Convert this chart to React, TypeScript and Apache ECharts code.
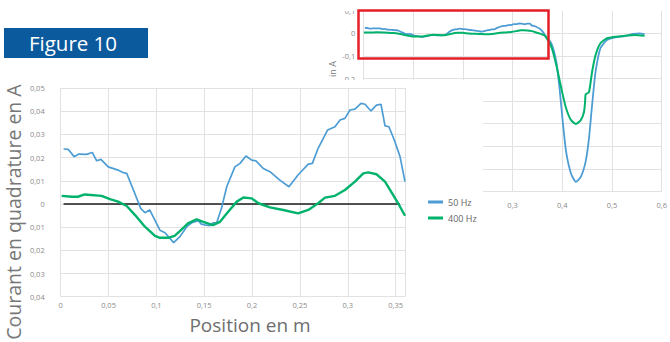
import React, { useEffect, useRef } from 'react';
import * as echarts from 'echarts';

// 50 Hz, zoomed section (position in m, current in A)
const pos50 = [0.003, 0.008, 0.014, 0.019, 0.027, 0.033, 0.0376, 0.042, 0.0497, 0.06, 0.0654, 0.069, 0.076, 0.0836, 0.088, 0.093, 0.1037, 0.109, 0.118, 0.1246, 0.1317, 0.137, 0.1438, 0.147, 0.1508, 0.156, 0.1595, 0.163, 0.168, 0.1735, 0.182, 0.1874, 0.1936, 0.1996, 0.204, 0.2117, 0.2187, 0.229, 0.2385, 0.248, 0.2587, 0.263, 0.269, 0.279, 0.2866, 0.2919, 0.297, 0.3023, 0.3075, 0.3138, 0.318, 0.3242, 0.33, 0.3347, 0.3389, 0.343, 0.3493, 0.3546, 0.3598];
const val50 = [0.0237, 0.0235, 0.0204, 0.0215, 0.0214, 0.0222, 0.0186, 0.0192, 0.016, 0.0146, 0.0135, 0.0132, 0.006, -0.0019, -0.0038, -0.0026, -0.0113, -0.0124, -0.0167, -0.0141, -0.0098, -0.0081, -0.0072, -0.0087, -0.009, -0.0094, -0.0081, -0.0081, -0.0019, 0.0074, 0.016, 0.0175, 0.0207, 0.0189, 0.0186, 0.0153, 0.0139, 0.0103, 0.0074, 0.0125, 0.0172, 0.0175, 0.024, 0.0319, 0.0333, 0.0362, 0.0369, 0.0405, 0.0409, 0.0434, 0.043, 0.0401, 0.0426, 0.043, 0.0337, 0.0333, 0.0268, 0.0204, 0.0096];

// 400 Hz, zoomed section
const pos400 = [0.001, 0.0115, 0.018, 0.025, 0.0428, 0.0515, 0.06, 0.069, 0.0777, 0.088, 0.0985, 0.1037, 0.1124, 0.119, 0.1265, 0.133, 0.142, 0.149, 0.159, 0.1665, 0.175, 0.184, 0.191, 0.1996, 0.2065, 0.2187, 0.2326, 0.248, 0.2587, 0.269, 0.2762, 0.2866, 0.297, 0.3075, 0.3162, 0.3214, 0.33, 0.3389, 0.3475, 0.3546, 0.3598];
const val400 = [0.0035, 0.0031, 0.0031, 0.0041, 0.0035, 0.0021, 0.001, -0.0009, -0.0048, -0.0098, -0.0138, -0.0146, -0.0146, -0.0138, -0.011, -0.0084, -0.0066, -0.0077, -0.0091, -0.0077, -0.0034, 0.001, 0.0028, 0.0024, 0.0003, -0.0015, -0.0026, -0.0041, -0.0026, 0.0003, 0.0027, 0.0035, 0.006, 0.0096, 0.0132, 0.0136, 0.0128, 0.0096, 0.0038, -0.0012, -0.0051];

// remainder of the full scan (background chart)
const tailPos50 = [0.365, 0.378, 0.388, 0.3945, 0.401, 0.4077, 0.4175, 0.4274, 0.4373, 0.447, 0.4537, 0.46, 0.467, 0.4767, 0.49, 0.5063, 0.526, 0.5424, 0.5556, 0.5655];
const tailVal50 = [-0.0075, -0.044, -0.126, -0.243, -0.391, -0.524, -0.62, -0.657, -0.635, -0.568, -0.465, -0.317, -0.17, -0.066, -0.0296, -0.018, -0.012, -0.003, 0, -0.004];
const tailPos400 = [0.365, 0.378, 0.388, 0.398, 0.4077, 0.4175, 0.4274, 0.4373, 0.4438, 0.446, 0.447, 0.4537, 0.46, 0.467, 0.4767, 0.49, 0.5063, 0.526, 0.546, 0.5655];
const tailVal400 = [-0.0106, -0.059, -0.14, -0.243, -0.332, -0.384, -0.401, -0.384, -0.347, -0.3, -0.27, -0.261, -0.17, -0.096, -0.044, -0.022, -0.015, -0.011, -0.0075, -0.0106];

// zero reference line
const zeroPos = [0.003, 0.3546];
const zeroVal = [0, 0];

// tick labels of the background chart that stay visible (others are hidden under the inset)
const bgXLabels = [0.3, 0.4, 0.5, 0.6];
const bgYLabels = [0.1, 0, -0.1, -0.2];

const seriesNames = ['50 Hz', '400 Hz'];
const BLUE = '#4d9dd4';
const GREEN = '#00b26b';
const FONT = '"Open Sans", "Noto Sans", sans-serif';

const zip = (xs: number[], ys: number[]) => xs.map((x, i) => [x, ys[i]]);

export default function App() {
  const ref = useRef<HTMLDivElement>(null);
  useEffect(() => {
    if (!ref.current) return;
    const chart = echarts.init(ref.current, null, { renderer: 'svg' });
    const isMult = (v: number, step: number) => Math.abs(v / step - Math.round(v / step)) < 1e-6;
    const inList = (v: number, list: number[]) => list.some((t) => Math.abs(t - v) < 1e-9);
    const fmtFg = (v: number) => (Math.abs(v) < 1e-9 ? '0' : Math.abs(v).toFixed(2).replace('.', ','));
    const fmtFgX = (v: number) => (!isMult(v, 0.05) ? '' : Math.abs(v) < 1e-9 ? '0' : String(+v.toFixed(2)).replace('.', ','));
    const fmtBg = (v: number) => (Math.abs(v) < 1e-9 ? '0' : String(+v.toFixed(1)).replace('.', ','));
    const fmtBgX = (v: number) => (inList(v, bgXLabels) ? fmtBg(v) : '');
    const fmtBgY = (v: number) => (inList(v, bgYLabels) ? fmtBg(v) : '');
    const gridLine = { show: true, lineStyle: { color: '#e2e2e2', width: 1 } };
    const labelBase = { color: '#8a8a8a', fontSize: 7.5, fontFamily: FONT };

    chart.setOption({
      animation: false,
      backgroundColor: '#ffffff',
      grid: [
        { left: 363.3, top: 10.7, width: 304.2, height: 180.8, containLabel: false },
        { left: 60.7, top: 88, width: 344.5, height: 208.7, containLabel: false },
      ],
      xAxis: [
        {
          gridIndex: 0, type: 'value', min: 0, max: 0.6, interval: 0.1, z: 0,
          axisLine: { show: false }, axisTick: { show: false }, splitLine: gridLine,
          axisLabel: { ...labelBase, margin: 9, formatter: fmtBgX },
        },
        {
          gridIndex: 1, type: 'value', min: 0, max: 0.36, interval: 0.05, z: 6,
          axisLine: { show: false }, axisTick: { show: false }, splitLine: gridLine,
          axisLabel: { ...labelBase, margin: 4, formatter: fmtFgX },
        },
      ],
      yAxis: [
        {
          gridIndex: 0, type: 'value', min: -0.7, max: 0.1, interval: 0.1, z: 0,
          axisLine: { show: false }, axisTick: { show: false }, splitLine: gridLine,
          axisLabel: { ...labelBase, margin: 8, formatter: fmtBgY },
        },
        {
          gridIndex: 1, type: 'value', min: -0.04, max: 0.05, interval: 0.01, z: 6,
          axisLine: { show: false }, axisTick: { show: false }, splitLine: gridLine,
          axisLabel: { ...labelBase, margin: 16, formatter: fmtFg },
        },
      ],
      legend: {
        data: seriesNames,
        orient: 'vertical',
        left: 428,
        top: 196,
        padding: 0,
        itemGap: 4,
        itemWidth: 15,
        itemHeight: 3,
        icon: 'rect',
        z: 8,
        textStyle: { color: '#666', fontSize: 9, lineHeight: 12, fontFamily: FONT },
      },
      series: [
        {
          name: seriesNames[0], type: 'line', xAxisIndex: 0, yAxisIndex: 0, z: 1,
          data: zip(pos50.concat(tailPos50), val50.concat(tailVal50)),
          showSymbol: false, smooth: 0.2, lineStyle: { color: BLUE, width: 1.8 }, itemStyle: { color: BLUE },
        },
        {
          name: seriesNames[1], type: 'line', xAxisIndex: 0, yAxisIndex: 0, z: 1,
          data: zip(pos400.concat(tailPos400), val400.concat(tailVal400)),
          showSymbol: false, smooth: 0.2, lineStyle: { color: GREEN, width: 2 }, itemStyle: { color: GREEN },
        },
        {
          name: 'zero', type: 'line', xAxisIndex: 1, yAxisIndex: 1, z: 7,
          data: zip(zeroPos, zeroVal), showSymbol: false,
          lineStyle: { color: '#1a1a1a', width: 1.5 }, itemStyle: { color: '#1a1a1a' },
        },
        {
          name: seriesNames[0], type: 'line', xAxisIndex: 1, yAxisIndex: 1, z: 7,
          data: zip(pos50, val50), showSymbol: false,
          lineStyle: { color: BLUE, width: 1.7 }, itemStyle: { color: BLUE },
        },
        {
          name: seriesNames[1], type: 'line', xAxisIndex: 1, yAxisIndex: 1, z: 7,
          data: zip(pos400, val400), showSymbol: false,
          lineStyle: { color: GREEN, width: 2.4 }, itemStyle: { color: GREEN },
        },
      ],
      graphic: [
        { type: 'text', z: 1, x: 332, y: 69, rotation: Math.PI / 2,
          style: { text: 'in A', fill: '#777', fontSize: 9, fontFamily: FONT, align: 'center', verticalAlign: 'middle' } },
        { type: 'rect', z: 5, shape: { x: 320, y: 0, width: 350, height: 11 }, style: { fill: '#ffffff' } },
        { type: 'rect', z: 5, shape: { x: 0, y: 80, width: 483, height: 262 }, style: { fill: '#ffffff' } },
        { type: 'rect', z: 9, shape: { x: 358.5, y: 10.5, width: 190, height: 48 },
          style: { fill: 'transparent', stroke: '#e51f27', lineWidth: 2.5 } },
        { type: 'rect', z: 9, shape: { x: 4, y: 28, width: 144, height: 30 }, style: { fill: '#0b5a9e' } },
        { type: 'text', z: 10, x: 73, y: 43,
          style: { text: 'Figure 10', fill: '#ffffff', fontSize: 20.5, fontFamily: FONT, align: 'center', verticalAlign: 'middle' } },
        { type: 'text', z: 10, x: 13, y: 212, rotation: Math.PI / 2,
          style: { text: 'Courant en quadrature en A', fill: '#777', fontSize: 19.5, lineHeight: 20, fontFamily: FONT, align: 'center', verticalAlign: 'middle' } },
        { type: 'text', z: 10, x: 250, y: 325,
          style: { text: 'Position en m', fill: '#6e6e6e', fontSize: 19, lineHeight: 17, fontFamily: FONT, align: 'center', verticalAlign: 'middle' } },
      ],
    });
    return () => chart.dispose();
  }, []);
  return <div ref={ref} style={{ position: 'absolute', left: 0, top: 0, width: 670, height: 342 }} />;
}
